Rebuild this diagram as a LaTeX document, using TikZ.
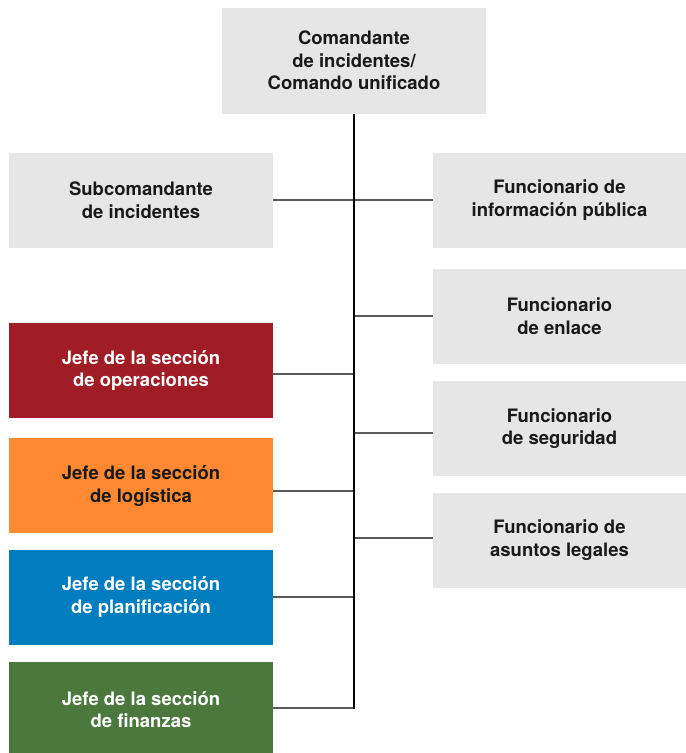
\documentclass[tikz,border=0pt]{standalone}
\usepackage{fontspec}
\setmainfont{TeX Gyre Heros}
\usepackage{tikz}
\usetikzlibrary{positioning}
\definecolor{boxgray}{HTML}{E6E6E7}
\definecolor{opsred}{HTML}{A01D25}
\definecolor{logorange}{HTML}{FF8833}
\definecolor{planblue}{HTML}{007DBF}
\definecolor{fingreen}{HTML}{4B793D}
\definecolor{linkgray}{HTML}{5A5A5A}

\begin{document}
\begin{tikzpicture}[
  x=1pt,y=1pt,
  node distance=17pt,
  box/.style={fill=boxgray,align=center,minimum height=95pt,text=black!90,
    font=\fontsize{18.5}{22.5}\selectfont\bfseries,inner sep=0pt},
  leftbox/.style={box,minimum width=264pt},
  rightbox/.style={box,minimum width=253pt},
  trunkline/.style={line width=1.3pt,black},
  link/.style={line width=1.8pt,color=linkgray}
]
\useasboundingbox (0,0) rectangle (686,-753);
% chain of command
\node[box,minimum width=264pt,minimum height=106pt] (ic) at (354,-60.5) {Comandante\\de incidentes/\\Comando unificado};
\node[leftbox] (deputy) at (141,-200) {Subcomandante\\de incidentes};
% command staff
\node[rightbox] (pio) at (559.5,-200) {Funcionario de\\información pública};
\node[rightbox,below=21pt of pio] (liaison) {Funcionario\\de enlace};
\node[rightbox,below=of liaison] (safety) {Funcionario\\de seguridad};
\node[rightbox,below=16pt of safety] (legal) {Funcionario de\\asuntos legales};
% general staff
\node[leftbox,fill=opsred,text=white] (ops) at (141,-370.5) {Jefe de la sección\\de operaciones};
\node[leftbox,fill=logorange,below=20pt of ops] (log) {Jefe de la sección\\de logística};
\node[leftbox,fill=planblue,text=white,below=16pt of log] (plan) {Jefe de la sección\\de planificación};
\node[leftbox,fill=fingreen,text=white,below=17pt of plan] (fin) {Jefe de la sección\\de finanzas};
% junctions on the trunk
\coordinate (jliaison) at (354,-316);
\coordinate (jsafety) at (354,-433);
\coordinate (jlegal) at (354,-538);
\coordinate (jops) at (354,-374);
\coordinate (jlog) at (354,-491);
\coordinate (jplan) at (354,-597);
\coordinate (trunkend) at (354,-708);
\draw[link] (deputy) -- (pio);
\foreach \n in {liaison,safety,legal}
  \draw[link] (\n.west |- j\n) -- (j\n);
\foreach \n in {ops,log,plan}
  \draw[link] (\n.east |- j\n) -- (j\n);
\draw[link] (fin.east |- trunkend) -- (trunkend);
\draw[trunkline] (ic.south) -- ([yshift=-0.9pt]trunkend);
\end{tikzpicture}
\end{document}
